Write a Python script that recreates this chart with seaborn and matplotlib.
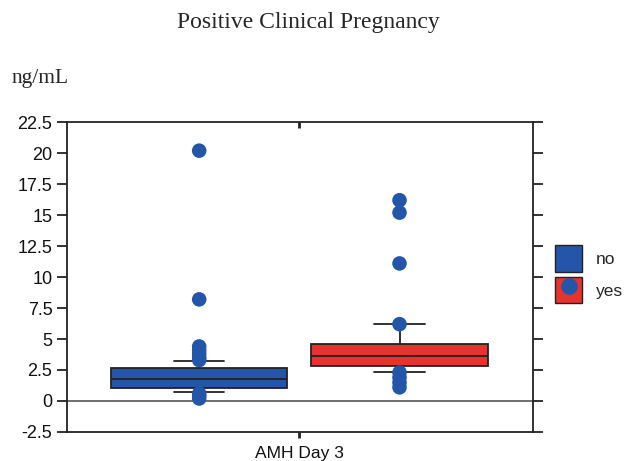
import matplotlib
matplotlib.use("Agg")
import matplotlib.pyplot as plt
from matplotlib.patches import Patch
from matplotlib.lines import Line2D
import seaborn as sns
import pandas as pd

# box statistics (ng/mL)
groups = ["no", "yes"]
q1 = [1.05, 2.8]
med = [1.77, 3.6]
q3 = [2.66, 4.6]
whislo = [0.73, 2.35]
whishi = [3.2, 6.2]

# individual points drawn on top of the boxes
no_points = [20.2, 8.2, 4.4, 4.1, 3.8, 3.5, 3.3, 0.6, 0.4, 0.2]
yes_points = [16.2, 15.2, 11.1, 6.2, 2.3, 1.9, 1.5, 1.1]

yticks = [-2.5, 0, 2.5, 5, 7.5, 10, 12.5, 15, 17.5, 20, 22.5]
ytick_labels = ["-2.5", "0", "2.5", "5", "7.5", "10", "12.5", "15", "17.5", "20", "22.5"]

BLUE = "#2356a8"
RED = "#e8322e"

sns.set_style("ticks")
plt.rcParams["font.family"] = ["Liberation Sans", "DejaVu Sans"]

fig = plt.figure(figsize=(6.26, 4.61), dpi=100)
ax = fig.add_axes([0.107, 0.063, 0.744, 0.672])

#boxes
stats = []
for i in range(len(groups)):
    stats.append({"q1": q1[i], "med": med[i], "q3": q3[i],
                  "whislo": whislo[i], "whishi": whishi[i], "fliers": []})
bp = ax.bxp(stats, positions=[0, 1], widths=0.88, patch_artist=True,
            showfliers=False, manage_ticks=False,
            medianprops=dict(color="#222222", lw=1.3),
            whiskerprops=dict(color="#222222", lw=1.3),
            capprops=dict(color="#222222", lw=1.3),
            boxprops=dict(edgecolor="#222222", lw=1.3),
            capwidths=0.25)
for patch, c in zip(bp["boxes"], [BLUE, RED]):
    patch.set_facecolor(c)

#points
pts = pd.DataFrame({
    "group": ["no"] * len(no_points) + ["yes"] * len(yes_points),
    "value": no_points + yes_points,
})
pts["pos"] = pts["group"].map({"no": 0, "yes": 1})
sns.scatterplot(data=pts, x="pos", y="value", color=BLUE, s=110,
                edgecolor="none", ax=ax, zorder=5, legend=False)

ax.axhline(0, color="#555555", lw=1.2, zorder=1)

ax.set_xlim(-0.66, 1.665)
ax.set_ylim(-2.5, 22.5)
ax.set_yticks(yticks)
ax.set_yticklabels(ytick_labels, fontsize=13, color="#111111")
ax.set_xticks([0.5])
ax.set_xticklabels(["AMH Day 3"], fontsize=12.5, color="#111111")
ax.set_xlabel("")
ax.set_ylabel("")
ax.tick_params(axis="y", right=True, direction="out", length=7, width=1.3,
               color="#222222")
ax.tick_params(axis="x", top=False, bottom=True, direction="out",
               length=4, width=2, color="#222222", pad=6)
for s in ax.spines.values():
    s.set_linewidth(1.3)
    s.set_color("#222222")

# small inward tick on the top edge
top = ax.secondary_xaxis("top")
top.set_xticks([0.5])
top.set_xticklabels([""])
top.tick_params(direction="in", length=4, width=2, color="#222222")
top.spines["top"].set_visible(False)

handles = [Patch(facecolor=BLUE, edgecolor="#222222"),
           (Patch(facecolor=RED, edgecolor="#222222"),
            Line2D([], [], marker="o", color=BLUE, ls="", markersize=11))]
fig.legend(handles, ["no", "yes"], loc="center left",
           bbox_to_anchor=(0.887, 0.405), frameon=False, fontsize=12.5,
           borderpad=0, borderaxespad=0,
           handlelength=1.55, handleheight=1.95, handletextpad=0.8,
           labelspacing=0.3)

fig.text(0.492, 0.952, "Positive Clinical Pregnancy", ha="center", va="center",
         fontsize=17, family="Liberation Serif")
fig.text(0.018, 0.83, "ng/mL", ha="left", va="center",
         fontsize=15.5, family="Liberation Serif")

fig.savefig("out.png", dpi=100)
